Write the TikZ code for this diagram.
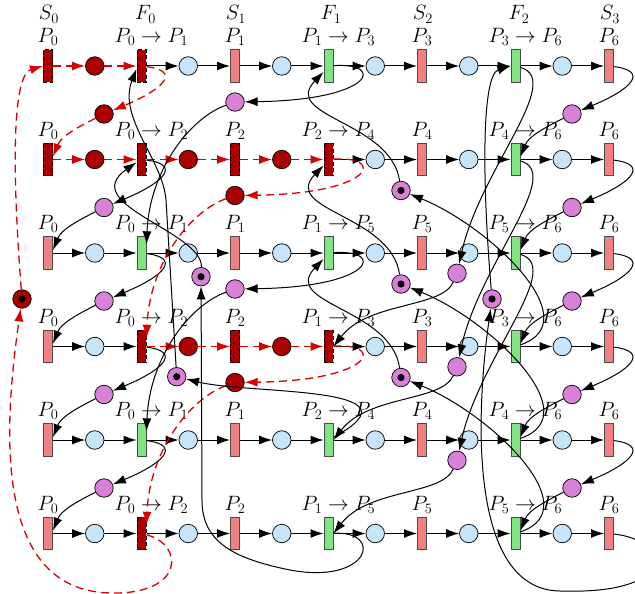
\documentclass[tikz,border=0pt]{standalone}
\usepackage{tikz}
\usepackage{amsmath}
\usetikzlibrary{arrows.meta}

\begin{document}
\begin{tikzpicture}[x=1pt,y=1pt,yscale=-1,xscale=1,
  trn/.style={rectangle, draw=black!70, line width=0.7pt, minimum width=9.3pt, minimum height=32.5pt, inner sep=0pt},
  tsalm/.style={trn, fill=mysalmon},
  tgreen/.style={trn, fill=mygreen},
  tdark/.style={trn, draw=black, fill=mydark, dash pattern=on 4pt off 2.5pt},
  plc/.style={circle, draw=black, line width=0.7pt, minimum size=18.5pt, inner sep=0pt},
  pblue/.style={plc, fill=myblue},
  pdark/.style={plc, fill=mydark},
  porch/.style={plc, fill=myorchid},
  blk/.style={-{Latex[length=13pt,width=9pt]}, line width=1pt},
  crit/.style={blk, draw=myred, dash pattern=on 8pt off 5pt, line width=1.3pt},
  lbl/.style={font=\fontsize{21}{24}\selectfont, inner sep=0pt, anchor=base}]

\definecolor{mydark}{rgb}{0.67, 0.0, 0.0}
\definecolor{myred}{rgb}{0.86, 0.0, 0.0}
\definecolor{mysalmon}{rgb}{0.95, 0.5, 0.5}
\definecolor{mygreen}{rgb}{0.5, 0.9, 0.5}
\definecolor{myblue}{rgb}{0.78, 0.9, 0.98}
\definecolor{myorchid}{rgb}{0.85, 0.5, 0.85}

\useasboundingbox (0,0) rectangle (635,594);

% transitions
\foreach \r/\a/\b/\c/\d/\e/\f/\g in {
  1/tdark/tdark/tsalm/tgreen/tsalm/tgreen/tsalm,
  2/tdark/tdark/tdark/tdark/tsalm/tgreen/tsalm,
  3/tsalm/tgreen/tsalm/tgreen/tsalm/tgreen/tsalm,
  4/tsalm/tdark/tdark/tdark/tsalm/tgreen/tsalm,
  5/tsalm/tgreen/tsalm/tgreen/tsalm/tgreen/tsalm,
  6/tsalm/tdark/tsalm/tgreen/tsalm/tgreen/tsalm}
  \foreach \s [count=\i from 0] in {\a,\b,\c,\d,\e,\f,\g}
    \node[\s] (t\r\i) at ({48+93.5*\i}, {66+93.5*(\r-1)}) {};

% places on the rows
\foreach \r/\a/\b/\c/\d/\e/\f in {
  1/pdark/pblue/pblue/pblue/pblue/pblue,
  2/pdark/pdark/pdark/pblue/pblue/pblue,
  3/pblue/pblue/pblue/pblue/pblue/pblue,
  4/pblue/pdark/pdark/pblue/pblue/pblue,
  5/pblue/pblue/pblue/pblue/pblue/pblue,
  6/pblue/pblue/pblue/pblue/pblue/pblue}
  \foreach \s [count=\i from 0] in {\a,\b,\c,\d,\e,\f}
    \node[\s] (p\r\i) at ({94.75+93.5*\i}, {66+93.5*(\r-1)}) {};

% labels
\node[lbl] (s0) at (49, 20) {$S_0$};
\node[lbl] (f0) at (145.5, 20) {$F_0$};
\node[lbl] (s1) at (236, 20) {$S_1$};
\node[lbl] (f1) at (331, 20) {$F_1$};
\node[lbl] (s2) at (423, 20) {$S_2$};
\node[lbl] (f2) at (519, 20) {$F_2$};
\node[lbl] (s3) at (610, 20) {$S_3$};
\foreach \r/\a/\b/\c in {1/1/1/3, 2/2/2/4, 3/1/1/5, 4/2/1/3, 5/1/2/4, 6/2/1/5} {
  \node[lbl] (l\r0) at (48, {42.5+93.5*(\r-1)}) {$P_0$};
  \node[lbl] (l\r1) at (151.5, {42.5+93.5*(\r-1)}) {$P_0 \rightarrow P_\a$};
  \node[lbl] (l\r2) at (235, {42.5+93.5*(\r-1)}) {$P_\a$};
  \node[lbl] (l\r3) at (338.5, {42.5+93.5*(\r-1)}) {$P_\b \rightarrow P_\c$};
  \node[lbl] (l\r4) at (422, {42.5+93.5*(\r-1)}) {$P_\c$};
  \node[lbl] (l\r5) at (525.5, {42.5+93.5*(\r-1)}) {$P_\c \rightarrow P_6$};
  \node[lbl] (l\r6) at (609, {42.5+93.5*(\r-1)}) {$P_6$};
}

% resource places
\foreach \r/\s in {1/pdark,2/porch,3/porch,4/porch,5/porch} {
  \node[\s] (h0\r) at (104, {114+93.5*(\r-1)}) {};
  \node[porch] (h6\r) at (572, {114+93.5*(\r-1)}) {};
}
\foreach \r/\s in {1/porch,2/pdark,3/porch,4/pdark}
  \node[\s] (h12\r) at (235, {102+93.5*(\r-1)}) {};
\foreach \r in {1,2,3}
  \node[porch] (h345\r) at (457, {273.3+93.5*(\r-1)}) {};

% places holding the first token
\node[pdark] (tk0) at (22, 299) {};
\node[porch] (tk1) at (176.7, 376.7) {};
\node[porch] (tk2) at (201, 276.7) {};
\node[porch] (tk3) at (401, 190.5) {};
\node[porch] (tk4) at (401, 284) {};
\node[porch] (tk5) at (401, 377.5) {};
\node[porch] (tk6) at (492, 299) {};
\foreach \k in {0,...,6}
  \fill (tk\k) circle (3.6);

% row arcs
\foreach \r/\a/\b/\c/\d/\e/\f in {
  1/crit/blk/blk/blk/blk/blk,
  2/crit/crit/crit/blk/blk/blk,
  3/blk/blk/blk/blk/blk/blk,
  4/blk/crit/crit/blk/blk/blk,
  5/blk/blk/blk/blk/blk/blk,
  6/blk/blk/blk/blk/blk/blk}
  \foreach \s [count=\i from 0] in {\a,\b,\c,\d,\e,\f} {
    \pgfmathtruncatemacro{\j}{\i+1}
    \draw[\s] (t\r\i) -- (p\r\i);
    \draw[\s] (p\r\i) -- (t\r\j);
  }

% P0 and P6
\foreach \r/\s in {1/crit,2/blk,3/blk,4/blk,5/blk} {
  \pgfmathtruncatemacro{\n}{\r+1}
  \draw[\s] (t\r1) .. controls +(40,5) and +(60,-25) .. (h0\r);
  \draw[\s] (h0\r) .. controls +(-28,14) and +(8,-20) .. (t\n0.30);
  \draw[blk] (t\r6) .. controls +(40,5) and +(60,-25) .. (h6\r);
  \draw[blk] (h6\r) .. controls +(-28,14) and +(8,-20) .. (t\n5.30);
}
% P1 and P2
\foreach \r/\s in {1/blk,2/crit,3/blk,4/crit} {
  \pgfmathtruncatemacro{\n}{\r+2}
  \draw[\s] (t\r3) .. controls +(57,-4) and +(140,-2) .. (h12\r);
  \draw[\s] (h12\r) .. controls +(-45,16) and +(3,-74) .. (t\n1.60);
}
% P3, P4 and P5
\foreach \r in {1,2,3} {
  \pgfmathtruncatemacro{\n}{\r+3}
  \draw[blk] (t\r5) .. controls +(49,14) and +(23,-103) .. (h345\r);
  \draw[blk] (h345\r) .. controls +(-15,35) and +(35,-45) .. (t\n3.east);
}
\foreach \r/\k in {4/3,5/4,6/5} {
  \pgfmathtruncatemacro{\n}{\r-3}
  \draw[blk] (t\r5) .. controls +(74,-25) and +(89,36) .. (tk\k);
  \draw[blk] (tk\k) .. controls +(-10,-69.5) and +(-43,45) .. (t\n3.-130);
}

% back to the first row
\coordinate (bl) at (110, 593);
\coordinate (br) at (290, 570);
\coordinate (bu) at (202, 500);
\coordinate (ku) at (166, 200);
\coordinate (sw) at (560, 591);
\draw[crit] (tk0) .. controls +(-10,-129) and +(-31,9) .. (t10.west);
\draw[crit] (t61) .. controls +(43,11) and +(75,2) .. (bl) .. controls +(-120,-3) and +(-17,121) .. (tk0);
\draw[blk] (t53) .. controls +(101.5,-55) and +(73,18) .. (tk1);
\draw[blk] (tk1) -- (ku) .. controls +(-3,-40) and +(-19,49) .. (t11.-150);
\draw[blk] (t63) .. controls +(56,-3) and +(80,15) .. (br) .. controls +(-60,-12) and +(0,40) .. (bu) -- (tk2);
\draw[blk] (tk2) .. controls +(2,-45) and +(-60,42) .. (t21.-150);
\draw[blk] (t66) .. controls +(61,6.5) and +(120,4) .. (sw) .. controls +(-90,-1) and +(-17,121) .. (tk6);
\draw[blk] (tk6) .. controls +(-10,-119) and +(-29,9) .. (t15.west);

\end{tikzpicture}
\end{document}
